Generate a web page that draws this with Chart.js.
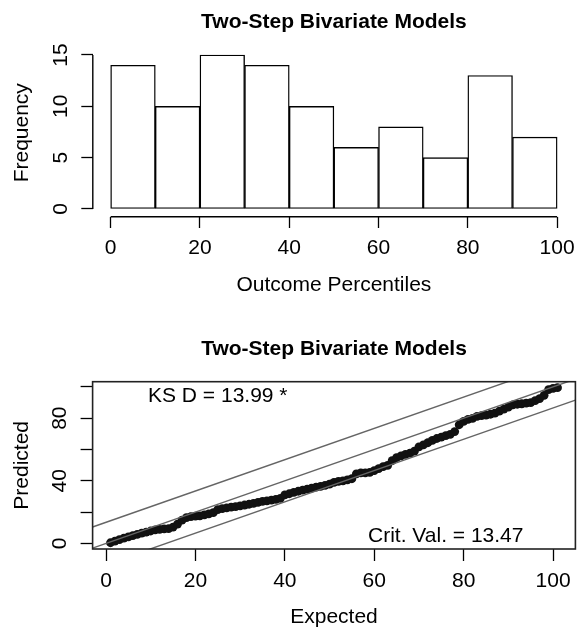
<!DOCTYPE html>
<html>
<head>
<meta charset="utf-8">
<title>Two-Step Bivariate Models</title>
<script src="https://cdn.jsdelivr.net/npm/chart.js@4.4.1/dist/chart.umd.min.js"></script>
<style>
  body { margin: 0; background: #fff; }
  canvas { display: block; }
</style>
</head>
<body>
<canvas id="histChart" width="586" height="300"></canvas>
<canvas id="qqChart" width="586" height="328"></canvas>
<script>
// histogram: outcome percentiles in 10-point bins
var binCenters = [5, 15, 25, 35, 45, 55, 65, 75, 85, 95];
var binCounts = [14, 10, 15, 14, 10, 6, 8, 5, 13, 7];
var histXTicks = [0, 20, 40, 60, 80, 100];
var histYTicks = [0, 5, 10, 15];

// expected vs predicted percentiles (sorted)
var expected = [1, 2, 3, 4, 5, 6, 7, 8, 9, 10, 11, 12, 13, 14, 15, 16, 17, 18, 19, 20,
  21, 22, 23, 24, 25, 26, 27, 28, 29, 30, 31, 32, 33, 34, 35, 36, 37, 38, 39, 40,
  41, 42, 43, 44, 45, 46, 47, 48, 49, 50, 51, 52, 53, 54, 55, 56, 57, 58, 59, 60,
  61, 62, 63, 64, 65, 66, 67, 68, 69, 70, 71, 72, 73, 74, 75, 76, 77, 78, 79, 80,
  81, 82, 83, 84, 85, 86, 87, 88, 89, 90, 91, 92, 93, 94, 95, 96, 97, 98, 99, 100, 101];
var predicted = [0.4, 1.4, 2.4, 3.3, 4.1, 4.9, 5.7, 6.5, 7.2, 7.9,
  8.6, 9.0, 9.2, 9.4, 10.4, 12.3, 14.8, 16.4, 17.1, 17.4,
  17.6, 18.2, 18.9, 19.6, 21.5, 22.2, 22.7, 23.1, 23.5, 23.9,
  24.5, 25.0, 25.6, 26.2, 26.8, 27.2, 27.6, 28.1, 28.8, 31.0,
  31.7, 32.6, 33.3, 34.0, 34.6, 35.3, 35.9, 36.4, 37.0, 37.8,
  39.0, 39.6, 39.9, 40.6, 41.3, 44.4, 45.0, 45.1, 45.3, 46.5,
  47.8, 49.0, 49.8, 52.8, 54.8, 55.9, 56.8, 57.6, 59.0, 61.6,
  62.9, 64.3, 65.8, 67.0, 67.9, 68.9, 69.7, 71.4, 75.8, 77.9,
  79.2, 79.9, 81.1, 81.6, 82.0, 82.5, 83.2, 84.5, 85.8, 87.0,
  88.5, 88.9, 89.2, 89.6, 89.9, 91.2, 92.5, 94.6, 98.2, 99.0, 99.5];
var qqXTicks = [0, 20, 40, 60, 80, 100];
var qqYTicks = [0, 20, 40, 60, 80, 100];
var qqYLabels = ['0', '', '40', '', '80', ''];
var ksD = 13.99;
var critVal = 13.47;

var FONT = "'Liberation Sans', Arial, Helvetica, sans-serif";
Chart.defaults.font.family = FONT;
Chart.defaults.font.size = 21;
Chart.defaults.color = '#000';

function fixedTicks(list) {
  return function (scale) {
    scale.ticks = list.map(function (v) { return { value: v }; });
  };
}

// R style axes: line runs only from first to last tick
var rAxes = {
  id: 'rAxes',
  afterDraw: function (chart) {
    var ctx = chart.ctx, a = chart.chartArea;
    var xs = chart.scales.x, ys = chart.scales.y;
    ctx.save();
    ctx.strokeStyle = '#000';
    ctx.lineWidth = 1.4;
    ctx.beginPath();
    ctx.moveTo(a.left, ys.getPixelForValue(histYTicks[0]));
    ctx.lineTo(a.left, ys.getPixelForValue(histYTicks[histYTicks.length - 1]));
    ctx.moveTo(xs.getPixelForValue(histXTicks[0]), a.bottom);
    ctx.lineTo(xs.getPixelForValue(histXTicks[histXTicks.length - 1]), a.bottom);
    ctx.stroke();
    ctx.restore();
  }
};

// box around the plot region plus the two text labels
var qqExtras = {
  id: 'qqExtras',
  afterDraw: function (chart) {
    var ctx = chart.ctx, a = chart.chartArea;
    var xs = chart.scales.x, ys = chart.scales.y;
    ctx.save();
    ctx.strokeStyle = '#222';
    ctx.lineWidth = 1.6;
    ctx.strokeRect(a.left, a.top, a.right - a.left, a.bottom - a.top);
    ctx.fillStyle = '#000';
    ctx.font = '21px ' + FONT;
    ctx.textAlign = 'center';
    ctx.textBaseline = 'middle';
    ctx.fillText('KS D = ' + ksD.toFixed(2) + ' *', xs.getPixelForValue(25), ys.getPixelForValue(94));
    ctx.fillText('Crit. Val. = ' + critVal.toFixed(2), xs.getPixelForValue(76), ys.getPixelForValue(4.7));
    ctx.restore();
  }
};

function axisGrid(len) {
  return { drawOnChartArea: false, drawTicks: true, tickLength: len, tickColor: '#000', tickWidth: 1.3 };
}

new Chart(document.getElementById('histChart'), {
  type: 'bar',
  data: {
    datasets: [{
      data: binCenters.map(function (c, i) { return { x: c, y: binCounts[i] }; }),
      backgroundColor: '#fff',
      borderColor: '#000',
      borderWidth: 1.4,
      borderSkipped: false,
      barPercentage: 1,
      categoryPercentage: 1
    }]
  },
  options: {
    responsive: false,
    animation: false,
    layout: { padding: { left: 0, right: 11, top: 0, bottom: 0 } },
    plugins: {
      legend: { display: false },
      tooltip: { enabled: false },
      title: {
        display: true,
        fullSize: false,
        text: 'Two-Step Bivariate Models',
        font: { size: 21, weight: 'bold' },
        padding: { top: 10, bottom: 13.6 }
      }
    },
    scales: {
      x: {
        type: 'linear',
        min: -4, max: 104,
        offset: false,
        afterBuildTicks: fixedTicks(histXTicks),
        afterFit: function (s) { s.height = 83.3; },
        ticks: { autoSkip: false, padding: 7.7, maxRotation: 0 },
        grid: Object.assign(axisGrid(11.3), { offset: false }),
        border: { display: false },
        title: { display: true, text: 'Outcome Percentiles', font: { size: 21, lineHeight: 1 }, padding: { top: 0, bottom: 4.5 } }
      },
      y: {
        min: -0.75, max: 15.6,
        afterBuildTicks: fixedTicks(histYTicks),
        afterFit: function (s) { s.width = 92.8; },
        ticks: { autoSkip: false, minRotation: 90, maxRotation: 90, crossAlign: 'center', padding: 8.6 },
        grid: axisGrid(11.5),
        border: { display: false },
        title: { display: true, text: 'Frequency', font: { size: 21, lineHeight: 1 }, padding: { top: 12.1, bottom: 0 } }
      }
    }
  },
  plugins: [rAxes]
});

var xLo = -3, xHi = 105;
function refLine(off) {
  return [{ x: xLo, y: xLo + off }, { x: xHi, y: xHi + off }];
}
var lineStyle = { type: 'line', showLine: true, borderColor: '#656565', borderWidth: 1.4, pointRadius: 0, fill: false, clip: 0, order: 0 };

new Chart(document.getElementById('qqChart'), {
  type: 'scatter',
  data: {
    datasets: [
      Object.assign({ data: refLine(critVal) }, lineStyle),
      Object.assign({ data: refLine(0) }, lineStyle),
      Object.assign({ data: refLine(-critVal) }, lineStyle),
      {
        data: expected.map(function (e, i) { return { x: e, y: predicted[i] }; }),
        pointRadius: 4.4,
        pointBackgroundColor: '#111',
        pointBorderWidth: 0,
        clip: 0,
        order: 1
      }
    ]
  },
  options: {
    responsive: false,
    animation: false,
    layout: { padding: { left: 0, right: 10.6, top: 0, bottom: 0 } },
    plugins: {
      legend: { display: false },
      tooltip: { enabled: false },
      title: {
        display: true,
        fullSize: false,
        text: 'Two-Step Bivariate Models',
        font: { size: 21, weight: 'bold' },
        padding: { top: 36.4, bottom: 20.1 }
      }
    },
    scales: {
      x: {
        type: 'linear',
        min: xLo, max: xHi,
        afterBuildTicks: fixedTicks(qqXTicks),
        afterFit: function (s) { s.height = 79; },
        ticks: { autoSkip: false, padding: 7.4, maxRotation: 0 },
        grid: axisGrid(12),
        border: { display: false },
        title: { display: true, text: 'Expected', font: { size: 21, lineHeight: 1 }, padding: { top: 0, bottom: 0 } }
      },
      y: {
        min: -3.6, max: 103.3,
        afterBuildTicks: fixedTicks(qqYTicks),
        afterFit: function (s) { s.width = 92.6; },
        ticks: {
          autoSkip: false, minRotation: 90, maxRotation: 90, crossAlign: 'center', padding: 8.7,
          callback: function (v, i) { return qqYLabels[i]; }
        },
        grid: axisGrid(12),
        border: { display: false },
        title: { display: true, text: 'Predicted', font: { size: 21, lineHeight: 1 }, padding: { top: 12.1, bottom: 0 } }
      }
    }
  },
  plugins: [qqExtras]
});
</script>
</body>
</html>
